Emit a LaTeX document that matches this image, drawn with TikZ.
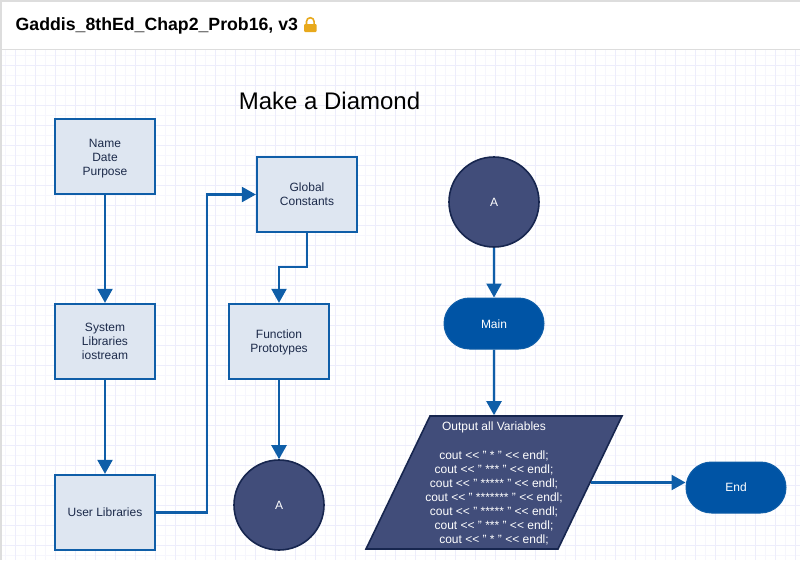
\documentclass[tikz,border=0pt]{standalone}
\usepackage{fontspec}
\setmainfont{Liberation Sans}
\usetikzlibrary{arrows.meta,shapes.geometric,shapes.misc,calc}
\definecolor{linkblue}{HTML}{0F5EA8}
\definecolor{boxfill}{HTML}{DEE6F1}
\definecolor{darkfill}{HTML}{414D7A}
\definecolor{darkline}{HTML}{17264F}
\definecolor{mainfill}{HTML}{0054A5}
\definecolor{boxtext}{HTML}{1C2A4A}
\definecolor{gridminor}{HTML}{F6F6FD}
\definecolor{gridmajor}{HTML}{EDEDFB}
\definecolor{chrome}{HTML}{DDDDDD}
\definecolor{lockgold}{HTML}{E8A91C}
\tikzset{
  x=1pt,y=-1pt,
  lightbox/.style={draw=linkblue,line width=2.3pt,fill=boxfill,minimum width=100pt,minimum height=75pt,inner sep=0pt,align=center,text=boxtext,font=\fontsize{12}{14}\selectfont},
  connector/.style={circle,draw=darkline,line width=1.6pt,fill=darkfill,minimum size=90pt,inner sep=0pt,text=white,font=\fontsize{12}{14}\selectfont},
  pill/.style={rounded rectangle,draw=linkblue,line width=1pt,fill=mainfill,minimum width=100pt,minimum height=51pt,inner sep=0pt,text=white,font=\fontsize{12}{14}\selectfont},
  link/.style={draw=linkblue,line width=2.3pt,-{Triangle[length=14pt,width=15pt]}},
  darktext/.style={text=white,font=\fontsize{12}{14}\selectfont,align=center,inner sep=0pt},
}
\newcommand{\shl}{<{}<}
\begin{document}
\begin{tikzpicture}
\useasboundingbox (0,0) rectangle (800,560);
\fill[white] (0,0) rectangle (800,560);
% grid
\foreach \gx in {5,25,...,805} \draw[gridminor,line width=.8pt] (\gx,50) -- (\gx,560);
\foreach \gy in {55,75,...,555} \draw[gridminor,line width=.8pt] (0,\gy) -- (800,\gy);
\foreach \gx in {15,35,...,795} \draw[gridmajor,line width=.8pt] (\gx,50) -- (\gx,560);
\foreach \gy in {65,85,...,545} \draw[gridmajor,line width=.8pt] (0,\gy) -- (800,\gy);
% window chrome
\fill[chrome] (0,0) rectangle (800,2);
\fill[chrome] (0,0) rectangle (2,560);
\draw[chrome,line width=.8pt] (2,49.5) -- (800,49.5);
\node[anchor=west,inner sep=0pt,font=\bfseries\fontsize{17.7}{20}\selectfont] (title) at (15.5,26) {Gaddis\_8thEd\_Chap2\_Prob16, v3};
% padlock
\draw[lockgold,line width=1.6pt] (306.5,25) -- (306.5,21.5) arc[start angle=180,end angle=360,radius=3.8] -- (314.1,25);
\fill[lockgold,rounded corners=1pt] (304,24) rectangle (316.5,32);
\node[inner sep=0pt,font=\fontsize{24}{28}\selectfont,anchor=center] (heading) at (329.5,101) {Make a Diamond};
% nodes
\node[lightbox] (name) at (105,156.5) {\rule{0pt}{12.5pt}Name\\Date\\Purpose};
\node[lightbox] (system) at (105,341.5) {System\\Libraries\\iostream};
\node[lightbox] (user) at (105,512.5) {User Libraries};
\node[lightbox] (global) at (307,194.5) {Global\\Constants};
\node[lightbox] (proto) at (279,341.5) {\rule{0pt}{10.5pt}Function\\Prototypes};
\node[connector] (aleft) at (279,505) {A};
\node[connector] (aright) at (494,202) {A};
\node[pill] (main) at (494,323.5) {\rule{0pt}{10.5pt}Main};
\node[trapezium,trapezium stretches body=true,trapezium left angle=64.3,trapezium right angle=115.7,minimum width=256pt,inner sep=0pt,draw=darkline,line width=1.6pt,fill=darkfill] (io) at (494,482.5) {\phantom{\rule{1pt}{133pt}}};
\node[darktext] (iotitle) at (494,427.5) {Output all Variables};
\node[darktext] (iobody) at (494,498) {cout \shl{} " * " \shl{} endl;\\cout \shl{} " *** " \shl{} endl;\\cout \shl{} " ***** " \shl{} endl;\\cout \shl{} " ******* " \shl{} endl;\\cout \shl{} " ***** " \shl{} endl;\\cout \shl{} " *** " \shl{} endl;\\cout \shl{} " * " \shl{} endl;};
\node[pill] (endnode) at (736,487.5) {End};
% links
\draw[link] (name) -- (system);
\draw[link] (system) -- (user);
\coordinate (riser) at (207,350);
\draw[link] (user.east) -| (riser) |- (global.west);
\coordinate (jog) at (293,267);
\draw[link] (global.south) |- (jog) -| (proto.north);
\draw[link] (proto) -- (aleft);
\draw[link] (aright) -- (main);
\draw[link] (main) -- (io.north);
\coordinate (ioexit) at ($(io.top right corner)!.5!(io.bottom right corner)$);
\draw[link] (ioexit) -- (endnode.west|-ioexit);
\end{tikzpicture}
\end{document}
